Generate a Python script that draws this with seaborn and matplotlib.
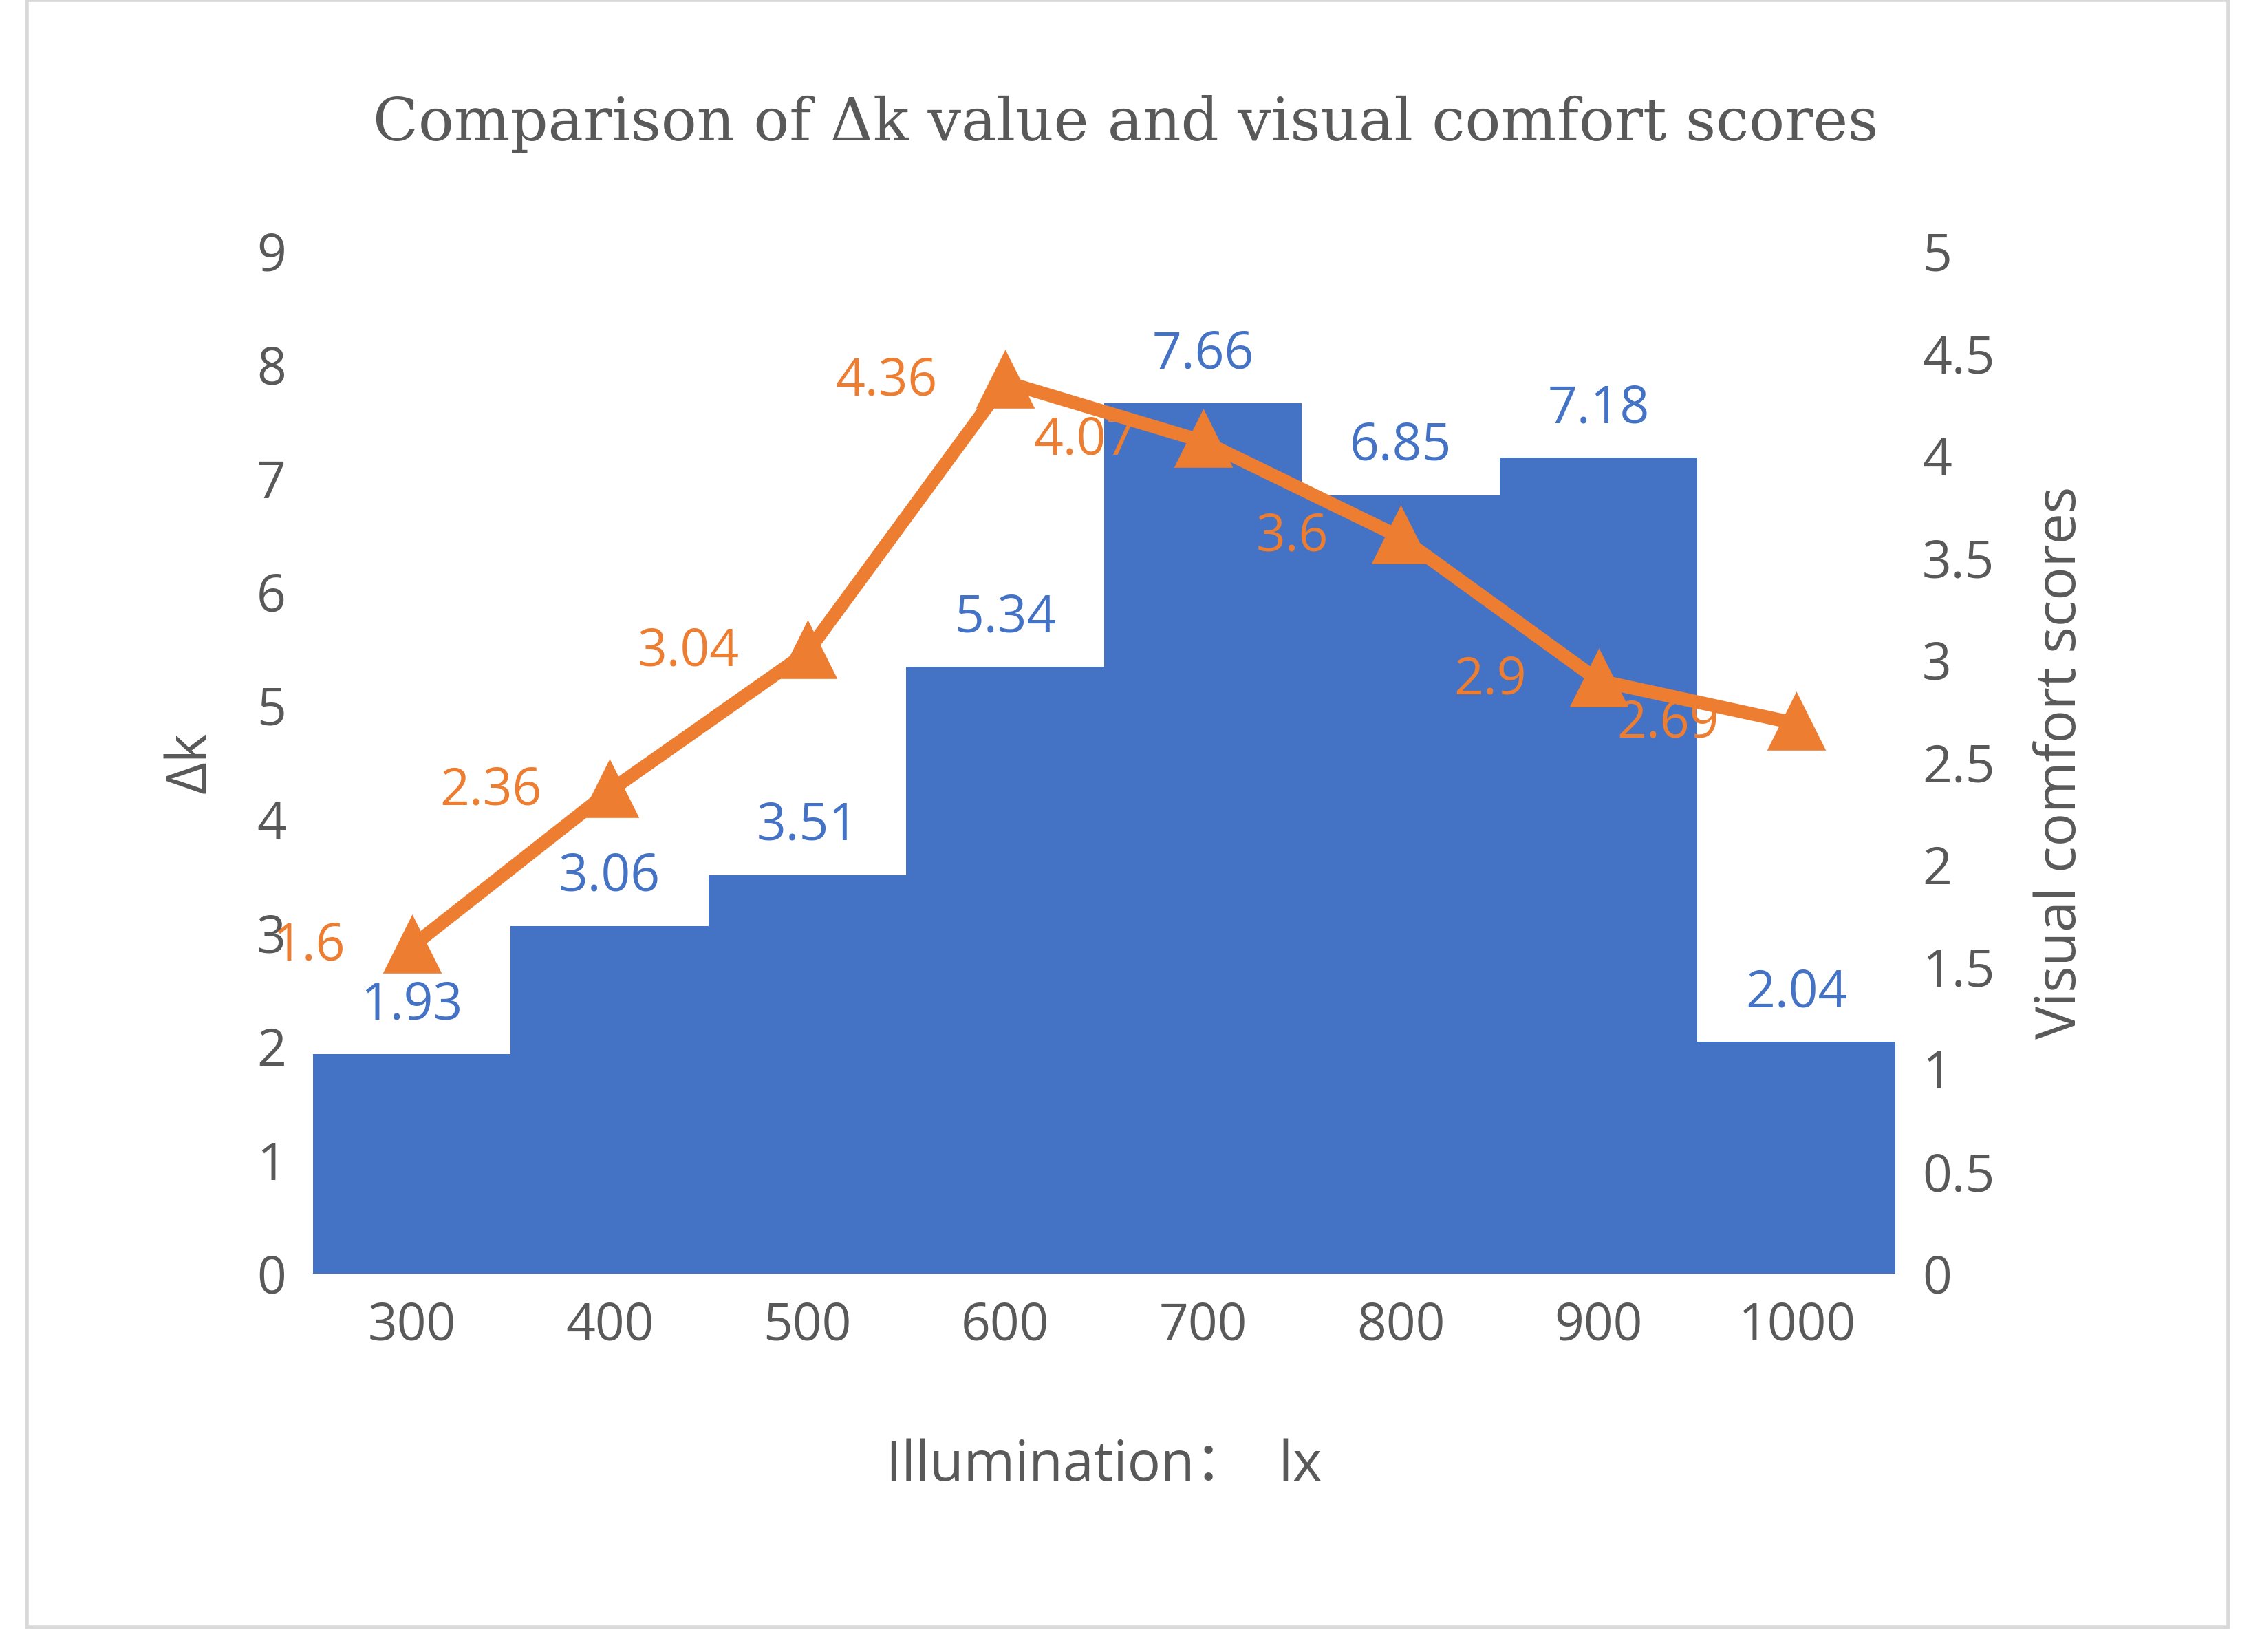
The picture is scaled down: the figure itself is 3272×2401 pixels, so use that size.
import numpy as np
import matplotlib.pyplot as plt
import matplotlib.patches as mpatches
import pandas as pd
import seaborn as sns

illum = ['300', '400', '500', '600', '700', '800', '900', '1000']
delta_k = [1.93, 3.06, 3.51, 5.34, 7.66, 6.85, 7.18, 2.04]
comfort = [1.6, 2.36, 3.04, 4.36, 4.07, 3.6, 2.9, 2.69]

blue = '#4472C4'
orange = '#ED7D31'
grey = '#595959'

df = pd.DataFrame({'illum': illum, 'dk': delta_k, 'vc': comfort})

sns.set_style('white')
plt.rcParams['font.family'] = ['Open Sans', 'Noto Sans CJK SC', 'DejaVu Sans']

fig = plt.figure(figsize=(16.36, 12.005), dpi=200)
ax = fig.add_axes([0.139, 0.229, 0.703, 0.619])
fig.patches.append(mpatches.Rectangle((0.012, 0.015), 0.978, 0.985, transform=fig.transFigure,
                                      fill=False, edgecolor='#D9D9D9', linewidth=2))

sns.barplot(data=df, x='illum', y='dk', color=blue, width=1.0, saturation=1, linewidth=0, ax=ax)
ax.set_ylim(0, 9)
ax.set_yticks(range(10))
ax.set_xlim(-0.5, 7.5)
for i, v in enumerate(delta_k):
    ax.text(i, v + 0.2, f'{v:g}', color=blue, fontsize=27, ha='center', va='bottom')

ax2 = ax.twinx()
sns.pointplot(data=df, x='illum', y='vc', color=orange, markers='^', markersize=22,
              linewidth=7, ax=ax2)
ax2.set_ylim(0, 5)
ax2.set_yticks(np.arange(0, 5.01, 0.5))
ax2.set_yticklabels(['0', '0.5', '1', '1.5', '2', '2.5', '3', '3.5', '4', '4.5', '5'])
ax2.set_xlim(-0.5, 7.5)
offsets = [(-0.52, 0.0), (-0.6, 0.0), (-0.6, 0.0), (-0.6, 0.0), (-0.6, 0.0), (-0.55, 0.0), (-0.55, 0.0), (-0.65, 0.0)]
for i, v in enumerate(comfort):
    dx, dy = offsets[i]
    ax2.text(i + dx, v + dy, f'{v:g}', color=orange, fontsize=27, ha='center', va='center')

for a in (ax, ax2):
    for s in a.spines.values():
        s.set_visible(False)
    a.tick_params(axis='both', length=0, labelsize=27, labelcolor=grey, pad=14)
    a.grid(False)

ax.set_xlabel('Illumination：  lx', fontsize=29, color=grey, labelpad=45)
ax.set_ylabel('Δk', fontsize=29, color=grey, labelpad=20)
ax2.set_ylabel('Visual comfort scores', fontsize=29, color=grey, labelpad=20)
ax2.set_xlabel('')
fig.text(0.5, 0.925, 'Comparison of Δk value and visual comfort scores', ha='center', va='center',
         fontsize=31, color=grey, family=['DejaVu Serif'])

fig.savefig('out.png', dpi=200)
